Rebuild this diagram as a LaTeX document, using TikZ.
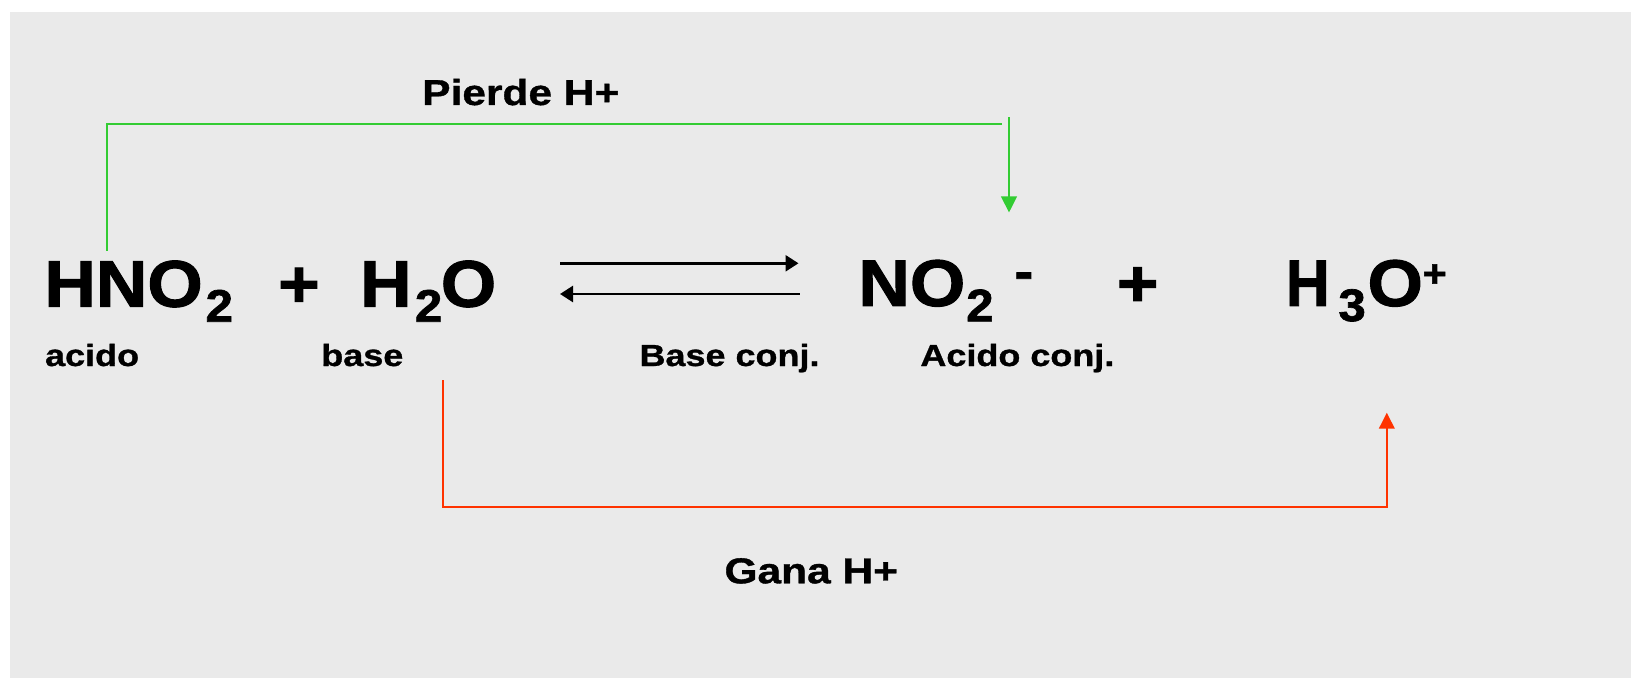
\documentclass[tikz,border=0pt]{standalone}
\usepackage{fontspec}
\usetikzlibrary{arrows.meta}
\newfontfamily\fmain{Liberation Sans}[FakeStretch=1.08, FakeBold=1.5]
\newfontfamily\flbl{Liberation Sans}[FakeStretch=1.18, FakeBold=1]
\definecolor{bgc}{RGB}{234,234,234}
\definecolor{gcol}{RGB}{51,204,51}
\definecolor{rcol}{RGB}{255,51,0}
\tikzset{
  big/.style={anchor=base west, inner sep=0pt, font=\fmain\bfseries\fontsize{33}{33}\selectfont},
  subs/.style={anchor=base west, inner sep=0pt, font=\fmain\bfseries\fontsize{22.8}{22.8}\selectfont},
  sups/.style={anchor=base west, inner sep=0pt, font=\fmain\bfseries\fontsize{19}{19}\selectfont},
  minus/.style={anchor=base west, inner sep=0pt, font=\fmain\bfseries\fontsize{26}{26}\selectfont},
  lbl/.style={anchor=base west, inner sep=0pt, font=\flbl\bfseries\fontsize{15.25}{15.25}\selectfont},
  ttl/.style={anchor=base west, inner sep=0pt, font=\flbl\bfseries\fontsize{18}{18}\selectfont},
  gline/.style={draw=gcol, line width=1pt},
  rline/.style={draw=rcol, line width=1pt},
  htip/.style={-{Triangle[length=8pt,width=7.8pt]}},
  eqline/.style={draw=black, line width=1.25pt, -{Triangle[length=6.5pt,width=8pt]}}
}
\begin{document}
\begin{tikzpicture}[x=0.5pt,y=-0.5pt]
\fill[white] (0,0) rectangle (1631,678);
\useasboundingbox (0,0) rectangle (1631,678);
\fill[bgc] (10,12) rectangle (1631,678);

% reactants
\node[big] (hno) at (44,306.7) {HNO};
\node[subs] (hnosub) at (205.2,321.7) {2};
\node[big] (plusa) at (277.8,306.7) {+};
\node[big] (wh) at (359.7,306.7) {H};
\node[subs] (wsub) at (414.5,321.7) {2};
\node[big] (wo) at (440.4,306.7) {O};

% products
\node[big] (no) at (858,306) {NO};
\node[subs] (nosub) at (965.8,321.3) {2};
\node[minus] (nominus) at (1014.1,289.1) {-};
\node[big] (plusb) at (1116.4,306) {+};
\node[big] (hh) at (1285.5,306) {\scalebox{0.85}[1]{H}};
\node[subs] (hsub) at (1338,321) {3};
\node[big] (ho) at (1367.1,306) {O};
\node[sups] (hplus) at (1422.3,286.7) {+};

% labels
\node[lbl] (acido) at (44.7,366) {acido};
\node[lbl] (base) at (320.9,366) {base};
\node[lbl] (baseconj) at (639.1,366) {Base conj.};
\node[lbl] (acidoconj) at (920,366) {Acido conj.};
\node[ttl] (pierde) at (421.8,105) {Pierde H+};
\node[ttl] (gana) at (724.1,583.3) {Gana H+};

% equilibrium arrows
\coordinate (eqa) at (560,263.3);
\coordinate (eqb) at (798.5,263.3);
\coordinate (eqc) at (799.5,294);
\coordinate (eqd) at (560,294);
\draw[eqline] (eqa) -- (eqb);
\draw[eqline] (eqc) -- (eqd);

% green connector (loses H+)
\coordinate (gs) at (107,251);
\coordinate (ge) at (1001.7,123.8);
\coordinate (gt) at (1009,117.5);
\coordinate (gh) at (1009,212.5);
\draw[gline] (gs) |- (ge);
\draw[gline, htip] (gt) -- (gh);

% red connector (gains H+)
\coordinate (rs) at (443,380);
\coordinate (rc) at (443,507.3);
\coordinate (rh) at (1386.8,412.7);
\draw[rline, htip] (rs) -- (rc) -| (rh);
\end{tikzpicture}
\end{document}
